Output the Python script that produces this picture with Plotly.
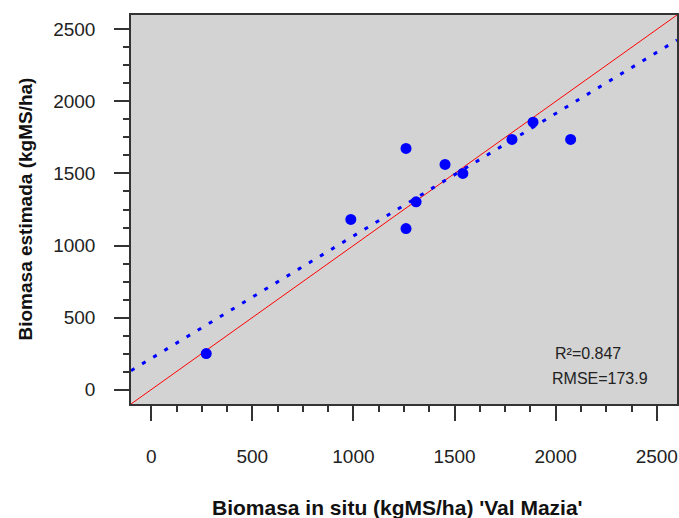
import numpy as np
import plotly.graph_objects as go

# Field-measured vs. estimated biomass (kgMS/ha), Val Mazia
biomasa_in_situ = [272, 987, 1260, 1260, 1310, 1453, 1541, 1784, 1888, 2074]
biomasa_estimada = [250, 1181, 1674, 1118, 1303, 1563, 1500, 1736, 1856, 1736]

axis_range = [-100, 2600]
tick_values = [0, 500, 1000, 1500, 2000, 2500]
stats_labels = ["R²=0.847", "RMSE=173.9"]
x_title = "<b>Biomasa in situ (kgMS/ha) 'Val Mazia'</b>"
y_title = "<b>Biomasa estimada (kgMS/ha)</b>"

# least-squares trend across the full axis span
slope, intercept = np.polyfit(biomasa_in_situ, biomasa_estimada, 1)
trend_x = np.array(axis_range, dtype=float)
trend_y = slope * trend_x + intercept

fig = go.Figure()

# 1:1 reference line
fig.add_trace(go.Scatter(
    x=axis_range, y=axis_range, mode="lines",
    line=dict(color="#ff0000", width=1), hoverinfo="skip", showlegend=False,
))

# regression line
fig.add_trace(go.Scatter(
    x=trend_x, y=trend_y, mode="lines",
    line=dict(color="#0000ff", width=3, dash="4px,9px"), hoverinfo="skip", showlegend=False,
))

# observations
fig.add_trace(go.Scatter(
    x=biomasa_in_situ, y=biomasa_estimada, mode="markers",
    marker=dict(color="#0000ff", size=11, line=dict(width=0)), showlegend=False,
))

axis_common = dict(
    range=axis_range, tickvals=tick_values, showgrid=False, zeroline=False,
    showline=True, linecolor="#333333", linewidth=1.5, mirror=True,
    ticks="outside", ticklen=15, tickwidth=1.5, tickcolor="#333333",
    tickfont=dict(family="Arial, Liberation Sans", size=19, color="#222222"),
    minor=dict(dtick=125, tick0=0, ticks="outside", ticklen=6, tickwidth=1.5, tickcolor="#333333", showgrid=False),
    automargin=False,
)

fig.update_xaxes(**axis_common, ticklabelstandoff=19)
fig.update_yaxes(**axis_common, ticklabelstandoff=15)

# axis titles, placed relative to the plot frame
title_font = dict(family="Arial, Liberation Sans", color="#111111")
fig.add_annotation(x=0.488, y=0, xref="paper", yref="paper", yshift=-103,
                   xanchor="center", yanchor="middle", text=x_title, showarrow=False,
                   font=dict(size=21, **title_font))
fig.add_annotation(x=0, y=0.5, xref="paper", yref="paper", xshift=-106,
                   xanchor="center", yanchor="middle", text=y_title, textangle=-90,
                   showarrow=False, font=dict(size=19, **title_font))

fig.add_annotation(x=2160, y=250, xref="x", yref="y", text=stats_labels[0], showarrow=False,
                   font=dict(family="Arial, Liberation Sans", size=16, color="#222222"))
fig.add_annotation(x=2220, y=75, xref="x", yref="y", text=stats_labels[1], showarrow=False,
                   font=dict(family="Arial, Liberation Sans", size=16, color="#222222"))

fig.update_layout(
    width=679, height=518,
    margin=dict(l=131, r=2, t=15, b=114),
    plot_bgcolor="#d3d3d3", paper_bgcolor="#ffffff",
)

fig.write_html("out.html")
